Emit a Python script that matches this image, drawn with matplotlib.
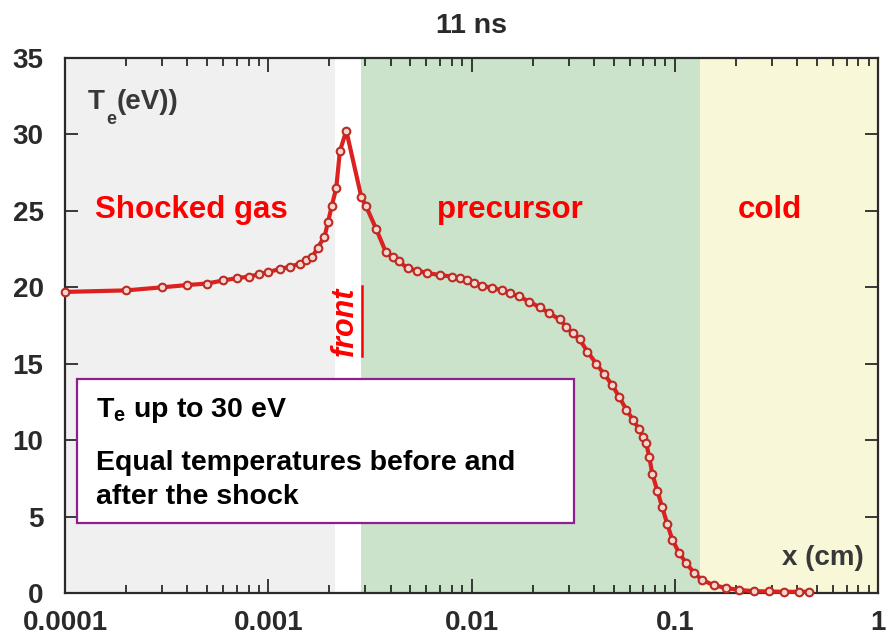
import matplotlib
matplotlib.use("Agg")
import matplotlib.pyplot as plt
from matplotlib.patches import Rectangle
from matplotlib.lines import Line2D
from matplotlib.ticker import FixedLocator, LogLocator, NullFormatter
from matplotlib.transforms import offset_copy

plt.rcParams['font.family'] = ['Liberation Sans', 'DejaVu Sans']
plt.rcParams['mathtext.fontset'] = 'custom'
plt.rcParams['mathtext.rm'] = 'Liberation Sans:bold'
plt.rcParams['mathtext.bf'] = 'Liberation Sans:bold'
plt.rcParams['mathtext.it'] = 'Liberation Sans:bold:italic'

# electron temperature profile at t = 11 ns
x_cm = [0.0001, 0.0002, 0.0003, 0.0004, 0.0005, 0.0006, 0.0007, 0.0008,
        0.0009, 0.001, 0.00114, 0.00128, 0.00143, 0.00154, 0.00165, 0.00175,
        0.00189, 0.00197, 0.00205, 0.00216, 0.00225, 0.00242, 0.00287,
        0.00303, 0.00340, 0.00379, 0.00409, 0.00438, 0.00485, 0.00537,
        0.00601, 0.00696, 0.00806, 0.00873, 0.00945, 0.01034, 0.0113,
        0.01268, 0.0142, 0.01554, 0.0172, 0.01928, 0.0216, 0.02417, 0.0271,
        0.0293, 0.0314, 0.0340, 0.03716, 0.0411, 0.04503, 0.04931, 0.0534,
        0.05777, 0.06252, 0.0669, 0.07003, 0.0724, 0.0749, 0.0775, 0.0820,
        0.0868, 0.0919, 0.0972, 0.1052, 0.1139, 0.1247, 0.1365, 0.1563,
        0.179, 0.2075, 0.2459, 0.2913, 0.3452, 0.409, 0.458]
te_ev = [19.7, 19.8, 20.0, 20.15, 20.25, 20.45, 20.6, 20.7,
         20.85, 21.0, 21.2, 21.35, 21.55, 21.8, 22.0, 22.6,
         23.3, 24.3, 25.3, 26.5, 28.9, 30.25, 25.9,
         25.3, 23.8, 22.3, 22.0, 21.7, 21.25, 21.1,
         20.95, 20.8, 20.7, 20.6, 20.5, 20.3, 20.1,
         19.95, 19.8, 19.6, 19.4, 19.05, 18.7, 18.3, 17.9,
         17.4, 17.0, 16.6, 15.8, 15.0, 14.3, 13.6, 12.8,
         12.0, 11.3, 10.7, 10.2, 9.8, 8.9, 7.8, 6.7,
         5.6, 4.5, 3.5, 2.6, 1.96, 1.3, 0.85, 0.5,
         0.33, 0.2, 0.12, 0.1, 0.08, 0.08, 0.08]

# zone boundaries (cm)
shocked_zone = (0.0001, 0.00212)
precursor_zone = (0.00285, 0.133)
cold_zone = (0.133, 1.0)

x_ticks = [0.0001, 0.001, 0.01, 0.1, 1]
x_tick_labels = ['0.0001', '0.001', '0.01', '0.1', '1']
y_ticks = [0, 5, 10, 15, 20, 25, 30, 35]

fig = plt.figure(figsize=(8.86, 6.38), dpi=100)
ax = fig.add_axes([0.0734, 0.0705, 0.9176, 0.8385])
ax.set_xscale('log')
ax.set_xlim(0.0001, 1)
ax.set_ylim(0, 35)

ax.axvspan(*shocked_zone, color='#f0f0f0', lw=0, zorder=0)
ax.axvspan(*precursor_zone, color='#cbe2cb', lw=0, zorder=0)
ax.axvspan(*cold_zone, color='#f8f7d8', lw=0, zorder=0)

ax.plot(x_cm, te_ev, color='#dd2020', lw=3.0, marker='o', ms=5.5,
        mfc='#f3d6d4', mec='#bd2a20', mew=1.5, zorder=3, clip_on=False)

ink = '#2a2a2a'
for s in ax.spines.values():
    s.set_color(ink)
    s.set_linewidth(1.6)

ax.xaxis.set_major_locator(FixedLocator(x_ticks))
ax.set_xticklabels(x_tick_labels)
ax.xaxis.set_minor_locator(LogLocator(base=10, subs=range(2, 10)))
ax.xaxis.set_minor_formatter(NullFormatter())
ax.set_yticks(y_ticks)
ax.tick_params(axis='both', which='both', direction='in', top=True, right=True,
               color=ink, width=1.3)
ax.tick_params(axis='x', which='major', length=10, pad=12.5)
ax.tick_params(axis='x', which='minor', length=5.5)
ax.tick_params(axis='y', which='major', length=9.5, pad=15.5)
for lab in ax.get_xticklabels() + ax.get_yticklabels():
    lab.set_fontsize(20)
    lab.set_fontweight('bold')
    lab.set_color(ink)

ax.set_title('11 ns', fontsize=20.5, fontweight='bold', color=ink, pad=18)

# axis quantity label with a low-hanging subscript
label_color = '#383838'
renderer = fig.canvas.get_renderer()
t_main = ax.text(0.028, 0.905, 'T', transform=ax.transAxes, fontsize=20,
                 fontweight='bold', color=label_color, va='baseline')
w_t = t_main.get_window_extent(renderer).width * 72 / fig.dpi
t_sub = ax.text(0.028, 0.905, 'e', fontsize=13, fontweight='bold',
                color=label_color, va='baseline',
                transform=offset_copy(ax.transAxes, fig=fig, x=w_t + 1, y=-11,
                                      units='points'))
w_e = t_sub.get_window_extent(renderer).width * 72 / fig.dpi
ax.text(0.028, 0.905, '(eV))', fontsize=20, fontweight='bold',
        color=label_color, va='baseline',
        transform=offset_copy(ax.transAxes, fig=fig, x=w_t + w_e + 1.5, y=0,
                              units='points'))

ax.text(0.982, 0.065, 'x (cm)', transform=ax.transAxes, fontsize=20,
        fontweight='bold', color=label_color, ha='right', va='center')

zone_style = dict(transform=ax.transAxes, fontsize=22.5, fontweight='bold',
                  color='#ff0000', ha='center', va='baseline')
ax.text(0.156, 0.701, 'Shocked gas', **zone_style)
ax.text(0.547, 0.701, 'precursor', **zone_style)
ax.text(0.867, 0.701, 'cold', **zone_style)

front = ax.text(0.00238, 17.8, 'front', rotation=90, fontsize=22,
                fontweight='bold', fontstyle='italic', color='#ff0000',
                ha='center', va='center', zorder=4)

box = Rectangle((0.0148, 0.131), 0.611, 0.269, transform=ax.transAxes,
                facecolor='white', edgecolor='#8e1f8e', lw=1.6, zorder=5)
ax.add_patch(box)
box_style = dict(transform=ax.transAxes, fontsize=20.5, fontweight='bold',
                 color='black', ha='left', va='center', zorder=6)
ax.text(0.0375, 0.342, r'T$_{\mathbf{e}}$ up to 30 eV', **box_style)
ax.text(0.0375, 0.243, 'Equal temperatures before and', **box_style)
ax.text(0.0375, 0.180, 'after the shock', **box_style)

# underline the rotated label along its baseline side
fig.canvas.draw()
bb = front.get_window_extent().transformed(fig.transFigure.inverted())
ux = bb.x1 + 0.002
fig.add_artist(Line2D([ux, ux], [bb.y0, bb.y1], transform=fig.transFigure,
                      color='#ff0000', lw=1.8, zorder=7))

fig.savefig('out.png', dpi=100)
